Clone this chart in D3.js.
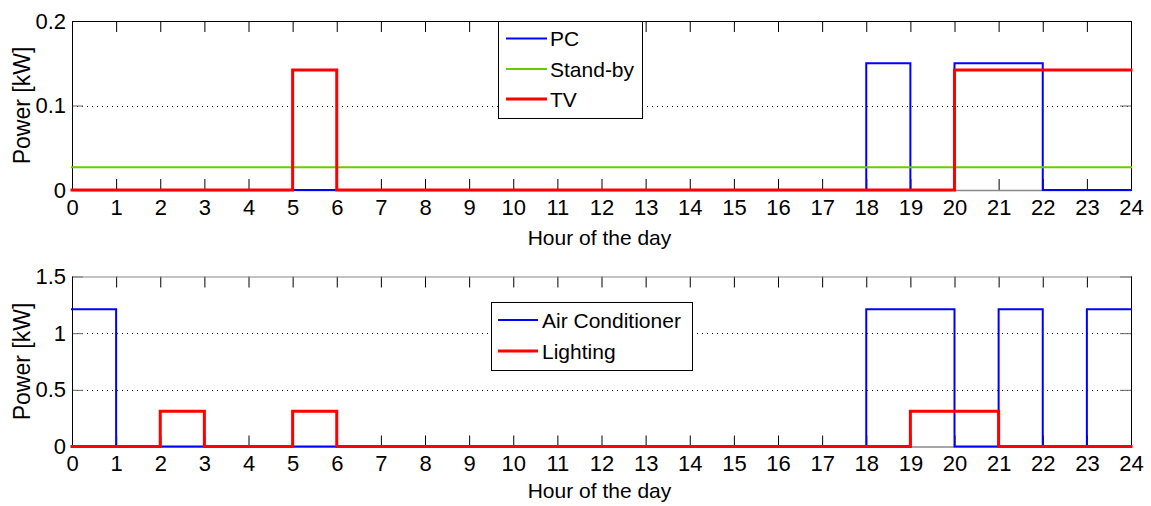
<!DOCTYPE html>
<html>
<head>
<meta charset="utf-8">
<script src="https://cdn.jsdelivr.net/npm/d3@7"></script>
<style>
  html, body { margin: 0; padding: 0; background: #fff; }
  svg { display: block; font-family: "Liberation Sans", Arial, sans-serif; }
</style>
</head>
<body>
<svg id="chart" width="1151" height="506"></svg>
<script>
// Hourly appliance power profiles (kW), one value per hour 0..23
const hours = d3.range(0, 24);
const hourTicks = d3.range(0, 25);

const pcPower      = [0,0,0,0,0,0,0,0,0,0,0,0,0,0,0,0,0,0,0.15,0,0.15,0.15,0,0];
const standbyPower = [0.027,0.027,0.027,0.027,0.027,0.027,0.027,0.027,0.027,0.027,0.027,0.027,
                      0.027,0.027,0.027,0.027,0.027,0.027,0.027,0.027,0.027,0.027,0.027,0.027];
const tvPower      = [0,0,0,0,0,0.142,0,0,0,0,0,0,0,0,0,0,0,0,0,0,0.142,0.142,0.142,0.142];

const acPower       = [1.21,0,0,0,0,0,0,0,0,0,0,0,0,0,0,0,0,0,1.21,1.21,0,1.21,0,1.21];
const lightingPower = [0,0,0.31,0,0,0.31,0,0,0,0,0,0,0,0,0,0,0,0,0,0.31,0.31,0,0,0];

const topTicks = [0, 0.1, 0.2];
const topTickLabels = ["0", "0.1", "0.2"];
const bottomTicks = [0, 0.5, 1, 1.5];
const bottomTickLabels = ["0", "0.5", "1", "1.5"];

const xLabel = "Hour of the day";
const yLabel = "Power [kW]";

const svg = d3.select("#chart");

const x = d3.scaleLinear().domain([0, 24]).range([72, 1131]);

function stepPoints(vals) {
  const pts = vals.map((v, i) => [hours[i], v]);
  pts.push([24, vals[vals.length - 1]]);
  return pts;
}

function panel(cfg) {
  const y = d3.scaleLinear().domain(cfg.domain).range([cfg.y0, cfg.y1]);
  const g = svg.append("g");
  const [xl, xr] = x.range();

  // dotted horizontal grid at interior y ticks
  g.selectAll("line.grid")
    .data(cfg.ticks.slice(1, -1))
    .join("line")
    .attr("x1", xl).attr("x2", xr)
    .attr("y1", d => Math.round(y(d)) + 0.5).attr("y2", d => Math.round(y(d)) + 0.5)
    .attr("stroke", "#000").attr("stroke-width", 1)
    .attr("stroke-dasharray", "1,4");

  // x axes: ticks pointing inward on both edges
  const xb = g.append("g").attr("transform", `translate(0,${cfg.y0})`)
    .call(d3.axisBottom(x).tickValues(hourTicks).tickSize(-11).tickPadding(9).tickFormat(d3.format("d")));
  const xt = g.append("g").attr("transform", `translate(0,${cfg.y1})`)
    .call(d3.axisTop(x).tickValues(hourTicks).tickSize(-11).tickFormat(""));
  // y axes
  const yl = g.append("g").attr("transform", `translate(${xl},0)`)
    .call(d3.axisLeft(y).tickValues(cfg.ticks).tickSize(-11).tickPadding(6)
      .tickFormat((d, i) => cfg.labels[i]));
  const yr = g.append("g").attr("transform", `translate(${xr},0)`)
    .call(d3.axisRight(y).tickValues(cfg.ticks).tickSize(-11).tickFormat(""));

  [xb, xt, yl, yr].forEach(a => {
    a.select(".domain").remove();
    a.selectAll("text").attr("fill", "#000").style("font-size", "22px")
      .style("font-family", "\"Liberation Sans\", Arial, sans-serif");
  });
  [xb, xt].forEach(a => a.selectAll(".tick line").attr("stroke", "#000"));
  [yl, yr].forEach(a => a.selectAll(".tick line").attr("stroke", "#666"));

  // box
  g.append("line").attr("x1", xl).attr("x2", xr).attr("y1", cfg.y1 + 0.5).attr("y2", cfg.y1 + 0.5)
    .attr("stroke", cfg.topEdge).attr("stroke-width", 1.2);
  g.append("line").attr("x1", xl).attr("x2", xr).attr("y1", cfg.y0 + 0.5).attr("y2", cfg.y0 + 0.5)
    .attr("stroke", "#888").attr("stroke-width", 1.5);
  g.append("line").attr("x1", xl + 0.5).attr("x2", xl + 0.5).attr("y1", cfg.y1).attr("y2", cfg.y0 + 1)
    .attr("stroke", "#000");
  g.append("line").attr("x1", xr + 0.5).attr("x2", xr + 0.5).attr("y1", cfg.y1).attr("y2", cfg.y0 + 1)
    .attr("stroke", "#000");

  // series as step lines
  const line = d3.line().x(d => x(d[0])).y(d => y(d[1])).curve(d3.curveStepAfter);
  cfg.series.forEach(s => {
    g.append("path").datum(stepPoints(s.values))
      .attr("d", line).attr("fill", "none")
      .attr("stroke", s.color).attr("stroke-width", s.width)
      .attr("stroke-linejoin", "miter").attr("stroke-linecap", "square");
  });

  // axis titles
  g.append("text").attr("x", (xl + xr) / 2 - 2).attr("y", cfg.xLabelY)
    .attr("text-anchor", "middle").style("font-size", "21px").text(xLabel);
  g.append("text")
    .attr("transform", `translate(${cfg.yLabelX},${(cfg.y0 + cfg.y1) / 2}) rotate(-90)`)
    .attr("text-anchor", "middle").style("font-size", "23px").text(yLabel);

  // legend
  const L = cfg.legend;
  const lg = g.append("g");
  lg.append("rect").attr("x", L.x + 0.5).attr("y", L.y + 0.5).attr("width", L.w).attr("height", L.h)
    .attr("fill", "#fff").attr("stroke", "#000").attr("stroke-width", 1);
  cfg.series.forEach((s, i) => {
    const ry = L.rowY[i];
    lg.append("line").attr("x1", L.lx1).attr("x2", L.lx2).attr("y1", ry).attr("y2", ry)
      .attr("stroke", s.color).attr("stroke-width", s.width);
    lg.append("text").attr("x", L.tx).attr("y", ry).attr("dy", "0.36em")
      .style("font-size", "21px").text(s.name);
  });
}

panel({
  domain: [0, 0.2], y0: 190, y1: 21,
  ticks: topTicks, labels: topTickLabels, topEdge: "#000",
  xLabelY: 245, yLabelX: 30,
  series: [
    { name: "PC", values: pcPower, color: "#0000ff", width: 2 },
    { name: "Stand-by", values: standbyPower, color: "#66cc00", width: 2 },
    { name: "TV", values: tvPower, color: "#ff0000", width: 3 }
  ],
  legend: { x: 498, y: 21, w: 144, h: 97, lx1: 506, lx2: 547, tx: 550, rowY: [38.5, 69, 99] }
});

panel({
  domain: [0, 1.5], y0: 446.5, y1: 276.5,
  ticks: bottomTicks, labels: bottomTickLabels, topEdge: "#888",
  xLabelY: 498, yLabelX: 30,
  series: [
    { name: "Air Conditioner", values: acPower, color: "#0000ff", width: 2 },
    { name: "Lighting", values: lightingPower, color: "#ff0000", width: 3 }
  ],
  legend: { x: 491, y: 302, w: 201, h: 68, lx1: 498, lx2: 538, tx: 542, rowY: [320, 351] }
});
</script>
</body>
</html>
